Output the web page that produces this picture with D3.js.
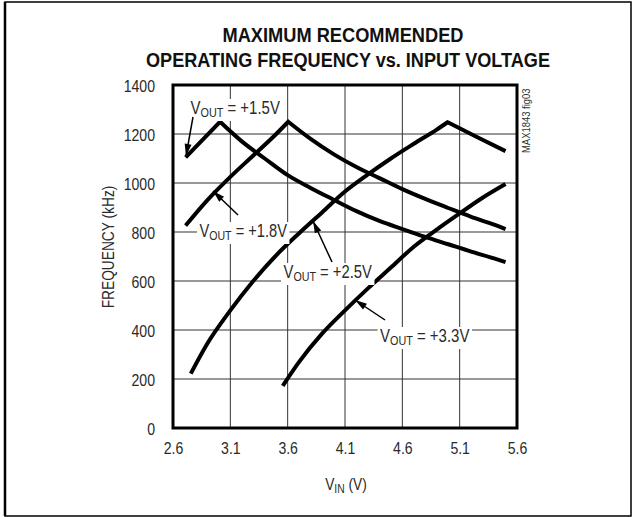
<!DOCTYPE html>
<html><head><meta charset="utf-8">
<script src="https://cdn.jsdelivr.net/npm/d3@7/dist/d3.min.js"></script>
<style>body{margin:0;background:#fff}</style>
</head><body>
<svg id="c" width="632" height="517"></svg>
<script>
const xTicks = [2.6, 3.1, 3.6, 4.1, 4.6, 5.1, 5.6];
const yTicks = [0, 200, 400, 600, 800, 1000, 1200, 1400];
// [rising part, falling part] (peak shared)
const series15 = [[[2.71,1105],[3.01,1250]], [[3.01,1250],[3.2,1170],[3.4,1100],[3.6,1032],[3.8,980],[4.0,932],[4.2,885],[4.4,845],[4.6,812],[4.8,780],[5.0,750],[5.2,720],[5.4,692],[5.5,677]]];
const series18 = [[[2.71,826],[2.9,930],[3.1,1025],[3.3,1112],[3.5,1200],[3.605,1250]], [[3.605,1250],[3.8,1180],[4.0,1118],[4.2,1065],[4.4,1020],[4.6,975],[4.8,935],[5.0,898],[5.2,862],[5.4,830],[5.5,812]]];
const series25 = [[[2.755,222],[2.9,345],[3.1,480],[3.3,600],[3.5,705],[3.7,795],[3.9,880],[4.1,965],[4.3,1035],[4.5,1100],[4.7,1160],[4.9,1218],[4.995,1248]], [[4.995,1248],[5.25,1188],[5.5,1130]]];
const series33 = [[[3.557,172],[3.7,270],[3.9,385],[4.1,480],[4.3,570],[4.5,655],[4.7,740],[4.9,810],[5.1,876],[5.3,940],[5.5,996]], []];
const labels = ["+1.5V", "+1.8V", "+2.5V", "+3.3V"];

const FONT = "'Liberation Sans',Arial,sans-serif";
const svg = d3.select("#c");
const x = d3.scaleLinear().domain([2.6, 5.6]).range([173, 517]);
const y = d3.scaleLinear().domain([0, 1400]).range([428, 85]);

// outer frame
svg.append("rect").attr("x",5).attr("y",2).attr("width",626).attr("height",514)
  .attr("fill","none").attr("stroke","#000").attr("stroke-width",1.5);
svg.append("line").attr("x1",5).attr("x2",5).attr("y1",2).attr("y2",516).attr("stroke","#000").attr("stroke-width",2.5);

// title
const title = svg.append("g").attr("font-family",FONT).attr("font-weight","bold").attr("font-size",20).attr("text-anchor","middle").attr("fill","#111");
title.append("text").attr("x",343).attr("y",42).attr("textLength",241).attr("lengthAdjust","spacingAndGlyphs").text("MAXIMUM RECOMMENDED");
title.append("text").attr("x",348).attr("y",67).attr("textLength",404).attr("lengthAdjust","spacingAndGlyphs").text("OPERATING FREQUENCY vs. INPUT VOLTAGE");

// grid
const grid = svg.append("g");
grid.selectAll("line.gx").data(xTicks.slice(1,-1)).join("line")
  .attr("x1",d=>x(d)).attr("x2",d=>x(d)).attr("y1",y(1400)).attr("y2",y(0))
  .attr("stroke","#333").attr("stroke-width",1);
grid.selectAll("line.gy").data(yTicks.slice(1,-1)).join("line")
  .attr("y1",d=>y(d)).attr("y2",d=>y(d)).attr("x1",x(2.6)).attr("x2",x(5.6))
  .attr("stroke","#333").attr("stroke-width",1);

// axes labels via d3 axes
const ax = svg.append("g").attr("transform",`translate(0,${y(0)+9})`)
  .call(d3.axisBottom(x).tickValues(xTicks).tickSize(0).tickFormat(d3.format(".1f")));
const ay = svg.append("g").attr("transform",`translate(${x(2.6)-18},0)`)
  .call(d3.axisLeft(y).tickValues(yTicks).tickSize(0).tickFormat(d3.format("d")));
[ax, ay].forEach(a => {
  a.select(".domain").remove();
  a.selectAll("text").attr("font-family",FONT).attr("font-size",16).attr("fill","#2a2a2a")
    .attr("transform","scale(0.88,1)");
});
ay.selectAll("text").attr("x",0).attr("dy","0.38em");
ax.selectAll("text").attr("dy","0.9em");

// axis titles
svg.append("text").attr("transform","translate(114,247) rotate(-90) scale(0.86,1)").attr("text-anchor","middle")
  .attr("font-family",FONT).attr("font-size",16).attr("fill","#2a2a2a").text("FREQUENCY (kHz)");
const xt = svg.append("text").attr("transform","translate(346,490) scale(0.86,1)").attr("text-anchor","middle")
  .attr("font-family",FONT).attr("font-size",16).attr("fill","#2a2a2a");
xt.append("tspan").text("V");
xt.append("tspan").attr("font-size",12).attr("dy",3).text("IN");
xt.append("tspan").attr("dy",-3).text(" (V)");

// figure id
svg.append("text").attr("transform","translate(530,153) rotate(-90) scale(0.9,1)").attr("text-anchor","start")
  .attr("font-family",FONT).attr("font-size",10.5).attr("fill","#333").text("MAX1843 fig03");

// curves: monotone segments joined with a sharp corner at the peak
const line = d3.line().x(d=>x(d[0])).y(d=>y(d[1])).curve(d3.curveMonotoneX);
const curves = svg.append("g");
[series15, series18, series25, series33].forEach(s => {
  let d = line(s[0]);
  if (s[1].length) d += line(s[1]).replace(/^M/, "L");
  curves.append("path").attr("d", d).attr("fill","none")
    .attr("stroke","#000").attr("stroke-width",4).attr("stroke-linejoin","miter").attr("stroke-miterlimit",10);
});

// labels with white boxes and arrows
const defs = svg.append("defs");
defs.append("marker").attr("id","ah").attr("viewBox","0 0 12 8").attr("refX",12).attr("refY",4)
  .attr("markerWidth",13).attr("markerHeight",8).attr("markerUnits","userSpaceOnUse").attr("orient","auto")
  .append("path").attr("d","M0,0.5 L12,4 L0,7.5 Z").attr("fill","#000");

const labelPos = [
  {tx:190.5, ty:114, w:89.5, ax1:[193,117], ax2:[186,156]},
  {tx:199.5, ty:237, w:87.5, ax1:[238,215], ax2:[213,191]},
  {tx:283.5, ty:278, w:88.5, ax1:[332,262], ax2:[313,221]},
  {tx:380, ty:342, w:89.5, ax1:[385,320], ax2:[355,300]}
];
const lg = svg.append("g");
labels.forEach((lab, i) => {
  const p = labelPos[i];
  const g = lg.append("g");
  const bg = g.append("rect").attr("fill","#fff");
  const t = g.append("text").attr("x",p.tx).attr("y",p.ty).attr("font-family",FONT).attr("font-size",18).attr("fill","#2a2a2a");
  t.append("tspan").text("V");
  t.append("tspan").attr("font-size",13).attr("dy",3).text("OUT");
  t.append("tspan").attr("dy",-3).text(" = " + lab);
  const b = t.node().getBBox();
  const f = p.w / b.width;
  g.attr("transform",`translate(${p.tx},0) scale(${f},1) translate(${-p.tx},0)`);
  bg.attr("x",b.x-3).attr("y",b.y+1).attr("width",b.width+6).attr("height",b.height);
  lg.append("line").attr("x1",p.ax1[0]).attr("y1",p.ax1[1]).attr("x2",p.ax2[0]).attr("y2",p.ax2[1])
    .attr("stroke","#000").attr("stroke-width",1.5).attr("marker-end","url(#ah)");
});

// plot border
svg.append("rect").attr("x",x(2.6)).attr("y",y(1400)).attr("width",x(5.6)-x(2.6)).attr("height",y(0)-y(1400))
  .attr("fill","none").attr("stroke","#000").attr("stroke-width",3);
</script>
</body></html>
